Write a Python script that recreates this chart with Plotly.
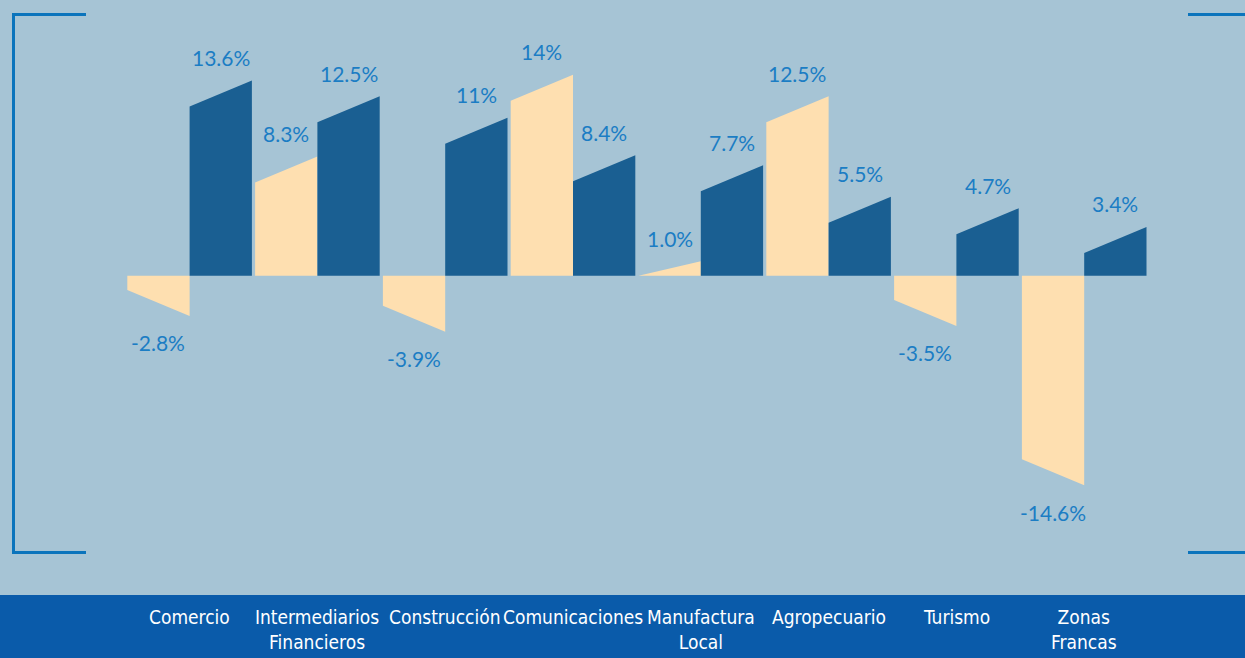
import plotly.graph_objects as go

categories = ["Comercio", "Intermediarios<br>Financieros", "Construcción", "Comunicaciones",
              "Manufactura<br>Local", "Agropecuario", "Turismo", "Zonas<br>Francas"]
serie_a = [-2.8, 8.3, -3.9, 14.0, 1.0, 12.5, -3.5, -14.6]   # peach bars
serie_b = [13.6, 12.5, 11.0, 8.4, 7.7, 5.5, 4.7, 3.4]       # dark bars
labels_a = ["-2.8%", "8.3%", "-3.9%", "14%", "1.0%", "12.5%", "-3.5%", "-14.6%"]
labels_b = ["13.6%", "12.5%", "11%", "8.4%", "7.7%", "5.5%", "4.7%", "3.4%"]

BG = "#A6C4D5"
PEACH = "#FEDFB0"
DARK = "#1A5F92"
LABEL = "#1B7DC4"
BAND = "#0A5BAA"
BRACKET = "#0B74BC"

W, H = 1245, 658
pitch = 127.8         # px per category
c0 = 189.6            # px of first category centre
zero_px = 275.7
scale = 14.35         # px per %
half = 62.3 / pitch   # half-width of a category group (in category units)
slant = 26 / scale    # slant of the bar's outer edge (in % units)

fig = go.Figure()


def add_bar(x0, x1, v, color):
    if v >= 0:
        inner = max(0.0, v - slant)
    else:
        inner = min(0.0, v + slant)
    fig.add_trace(go.Scatter(
        x=[x0, x0, x1, x1, x0], y=[0, inner, v, 0, 0],
        mode="lines", fill="toself", fillcolor=color,
        line=dict(width=0, color=color), hoverinfo="skip", showlegend=False))


def add_label(xc, v, txt):
    fig.add_annotation(x=xc, y=v, xref="x", yref="y", text=txt, showarrow=False,
                       yanchor="middle", yshift=23 if v >= 0 else -27,
                       font=dict(family="Lato, Open Sans, sans-serif", size=21, color=LABEL))


for i, (a, b) in enumerate(zip(serie_a, serie_b)):
    add_bar(i - half, i, a, PEACH)
    add_bar(i, i + half, b, DARK)
    add_label(i - half / 2, a, labels_a[i])
    add_label(i + half / 2, b, labels_b[i])
    fig.add_annotation(x=i, y=1 - 618 / H, xref="x", yref="paper", text=categories[i],
                       showarrow=False, yanchor="top", yshift=14,
                       font=dict(family="DejaVu Sans Condensed, Liberation Sans Narrow, Arial Narrow",
                                 size=19, color="white"))

shapes = [
    dict(type="rect", xref="paper", yref="paper", x0=0, x1=1, y0=0, y1=1 - 595 / H,
         fillcolor=BAND, line=dict(width=0), layer="below"),
    dict(type="path", xref="paper", yref="paper",
         path=f"M {86/W} {1-14.5/H} L {13.5/W} {1-14.5/H} L {13.5/W} {1-552.5/H} L {86/W} {1-552.5/H}",
         line=dict(color=BRACKET, width=3)),
    dict(type="line", xref="paper", yref="paper", x0=1188 / W, x1=1, y0=1 - 14.5 / H, y1=1 - 14.5 / H,
         line=dict(color=BRACKET, width=3)),
    dict(type="line", xref="paper", yref="paper", x0=1188 / W, x1=1, y0=1 - 552.5 / H, y1=1 - 552.5 / H,
         line=dict(color=BRACKET, width=3)),
]

fig.update_layout(
    width=W, height=H, margin=dict(l=0, r=0, t=0, b=0),
    paper_bgcolor=BG, plot_bgcolor=BG, showlegend=False, shapes=shapes,
    xaxis=dict(range=[-c0 / pitch, (W - c0) / pitch], visible=False, fixedrange=True),
    yaxis=dict(range=[-(H - zero_px) / scale, zero_px / scale], visible=False, fixedrange=True),
)

fig.write_html("out.html", config={"displayModeBar": False},
               post_script="document.body.style.margin='0';document.body.style.overflow='hidden';")
